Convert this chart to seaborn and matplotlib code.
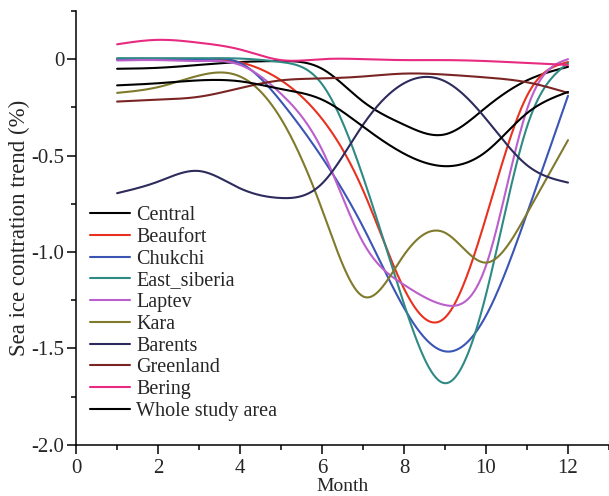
import numpy as np
import pandas as pd
import matplotlib
matplotlib.use('Agg')
import matplotlib.pyplot as plt
from matplotlib.ticker import MultipleLocator
import seaborn as sns

# monthly trend values (%)
months = np.arange(1, 13)
central = [-0.05, -0.045, -0.03, -0.015, -0.01, -0.05, -0.22, -0.34, -0.39, -0.25, -0.11, -0.04]
beaufort = [0.0, 0.0, 0.0, -0.017, -0.11, -0.31, -0.68, -1.19, -1.34, -0.82, -0.19, -0.015]
chukchi = [0.0, 0.0, -0.003, -0.02, -0.22, -0.51, -0.87, -1.29, -1.515, -1.33, -0.80, -0.19]
east_siberia = [0.005, 0.005, 0.005, 0.003, -0.015, -0.13, -0.61, -1.27, -1.68, -1.22, -0.35, -0.02]
laptev = [-0.007, -0.005, -0.01, -0.03, -0.18, -0.47, -0.95, -1.17, -1.275, -1.07, -0.26, 0.0]
kara = [-0.175, -0.145, -0.085, -0.09, -0.31, -0.78, -1.23, -1.015, -0.9, -1.055, -0.80, -0.42]
barents = [-0.695, -0.635, -0.58, -0.67, -0.72, -0.645, -0.34, -0.125, -0.115, -0.31, -0.55, -0.64]
greenland = [-0.22, -0.21, -0.195, -0.15, -0.11, -0.10, -0.09, -0.075, -0.08, -0.095, -0.12, -0.175]
bering = [0.077, 0.10, 0.085, 0.05, -0.005, 0.0, 0.0, -0.005, -0.005, -0.01, -0.02, -0.03]
whole = [-0.136, -0.125, -0.11, -0.115, -0.155, -0.21, -0.35, -0.49, -0.555, -0.48, -0.28, -0.17]

regions = ['Central', 'Beaufort', 'Chukchi', 'East_siberia', 'Laptev', 'Kara',
           'Barents', 'Greenland', 'Bering', 'Whole study area']
series = [central, beaufort, chukchi, east_siberia, laptev, kara,
          barents, greenland, bering, whole]
colors = ['#000000', '#e8321f', '#3a55b4', '#2f8a84', '#bb5fcc', '#7f7a2c',
          '#2d2b5c', '#7a2424', '#e82a80', '#000000']


def spline(x, y, n=400):
    # natural cubic spline through the monthly points (smooth connect line)
    x = np.asarray(x, float)
    y = np.asarray(y, float)
    h = np.diff(x)
    k = len(x)
    A = np.zeros((k, k))
    b = np.zeros(k)
    A[0, 0] = A[-1, -1] = 1
    for i in range(1, k - 1):
        A[i, i - 1] = h[i - 1]
        A[i, i] = 2 * (h[i - 1] + h[i])
        A[i, i + 1] = h[i]
        b[i] = 6 * ((y[i + 1] - y[i]) / h[i] - (y[i] - y[i - 1]) / h[i - 1])
    M = np.linalg.solve(A, b)
    xs = np.linspace(x[0], x[-1], n)
    idx = np.clip(np.searchsorted(x, xs) - 1, 0, k - 2)
    x0, x1 = x[idx], x[idx + 1]
    hh = x1 - x0
    ys = (M[idx] * (x1 - xs) ** 3 / (6 * hh) + M[idx + 1] * (xs - x0) ** 3 / (6 * hh)
          + (y[idx] / hh - M[idx] * hh / 6) * (x1 - xs)
          + (y[idx + 1] / hh - M[idx + 1] * hh / 6) * (xs - x0))
    return xs, ys


frames = []
for name, vals in zip(regions, series):
    xs, ys = spline(months, vals)
    frames.append(pd.DataFrame({'Month': xs, 'trend': ys, 'Region': name}))
df = pd.concat(frames, ignore_index=True)

sns.set_style('ticks')
plt.rcParams['font.family'] = ['Liberation Serif', 'DejaVu Serif']

fig = plt.figure(figsize=(6.09, 4.96), dpi=100)
ax = fig.add_axes([0.125, 0.103, 0.875, 0.875])

sns.lineplot(data=df, x='Month', y='trend', hue='Region', hue_order=regions,
             palette=dict(zip(regions, colors)), linewidth=1.5, sort=False,
             estimator=None, ax=ax)

ax.set_xlim(0, 13)
ax.set_ylim(-2.0, 0.25)
ax.set_xticks(range(0, 13, 2))
ax.xaxis.set_minor_locator(MultipleLocator(1))
ax.set_yticks([-2.0, -1.5, -1.0, -0.5, 0.0])
ax.set_yticklabels(['-2.0', '-1.5', '-1.0', '-0.5', '0'])
ax.yaxis.set_minor_locator(MultipleLocator(0.25))
sns.despine(ax=ax)
for s in ['left', 'bottom']:
    ax.spines[s].set_linewidth(1.1)
    ax.spines[s].set_color('black')
ax.tick_params(which='major', direction='out', length=6.5, width=1.1,
               labelsize=15, color='black')
ax.tick_params(axis='x', which='major', pad=3.5)
ax.tick_params(axis='y', which='major', pad=2)
ax.tick_params(which='minor', direction='out', length=3.5, width=1.1, color='black')

ax.set_xlabel('Month', fontsize=14, labelpad=0)
ax.set_ylabel('Sea ice contration trend (%)', fontsize=16.5, labelpad=1)

handles, labels = ax.get_legend_handles_labels()
ax.legend(handles, labels, loc='upper left', bbox_to_anchor=(0.026, 0.55),
          frameon=False, fontsize=14.5, handlelength=2.0, handletextpad=0.3,
          labelspacing=0.13, borderpad=0, borderaxespad=0)

fig.savefig('out.png', dpi=100)
